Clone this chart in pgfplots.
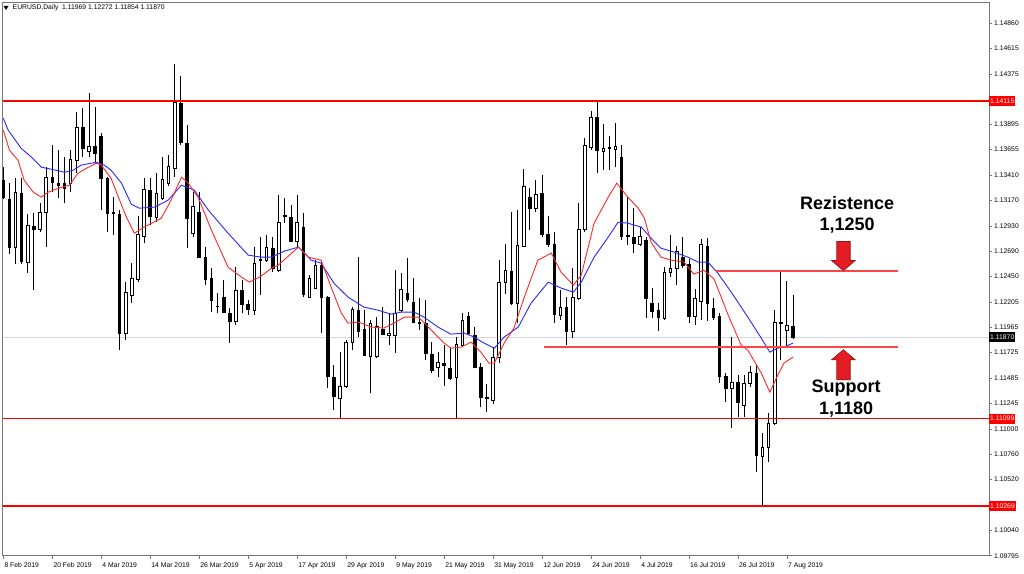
\documentclass[border=0pt]{standalone}
\usepackage{fontspec}
\setmainfont{Liberation Sans}
\usepackage{pgfplots}
\usepackage{pgfplotstable}
\pgfplotsset{compat=1.18}
\definecolor{mablue}{RGB}{40,40,255}
\definecolor{mared}{RGB}{255,40,40}
\definecolor{lvred}{RGB}{255,0,0}
\definecolor{pline}{RGB}{250,70,70}
\definecolor{arrfill}{RGB}{228,28,36}
\definecolor{arrdraw}{RGB}{160,20,20}
\definecolor{frame}{RGB}{120,120,120}

\pgfplotstableread{
i O H L C
0 1.13364 1.13488 1.13184 1.13203
1 1.13184 1.13336 1.12661 1.12728
2 1.12728 1.13383 1.12566 1.13250
3 1.13241 1.13383 1.12566 1.12595
4 1.12585 1.13041 1.12481 1.12937
5 1.12927 1.13051 1.12319 1.12899
6 1.12899 1.13146 1.12870 1.13060
7 1.13060 1.13488 1.12728 1.13393
8 1.13393 1.13697 1.13250 1.13345
9 1.13336 1.13649 1.13193 1.13317
10 1.13336 1.13583 1.13146 1.13290
11 1.13336 1.13649 1.13250 1.13564
12 1.13554 1.14010 1.13431 1.13868
13 1.13868 1.14048 1.13583 1.13668
14 1.13640 1.14191 1.13583 1.13687
15 1.13687 1.14058 1.13535 1.13621
16 1.13782 1.13811 1.13079 1.13383
17 1.13383 1.13393 1.12870 1.13051
18 1.13055 1.13203 1.12842 1.13044
19 1.13041 1.13079 1.11749 1.11911
20 1.11911 1.12395 1.11844 1.12300
21 1.12272 1.12576 1.12196 1.12433
22 1.12424 1.13022 1.12395 1.12851
23 1.12832 1.13383 1.12766 1.13279
24 1.13269 1.13383 1.12937 1.13022
25 1.13013 1.13431 1.12965 1.13241
26 1.13193 1.13583 1.13174 1.13374
27 1.13336 1.13602 1.13307 1.13497
28 1.13478 1.14466 1.13393 1.14105
29 1.14096 1.14352 1.13697 1.13725
30 1.13716 1.13887 1.12718 1.13003
31 1.12861 1.13250 1.12823 1.13117
32 1.13060 1.13250 1.12623 1.12633
33 1.12633 1.12728 1.12367 1.12424
34 1.12433 1.12528 1.12110 1.12224
35 1.12167 1.12291 1.12101 1.12160
36 1.12253 1.12414 1.12101 1.12110
37 1.12101 1.12148 1.11816 1.12025
38 1.12025 1.12538 1.11987 1.12319
39 1.12319 1.12414 1.12101 1.12186
40 1.12186 1.12224 1.12082 1.12139
41 1.12129 1.12728 1.12082 1.12576
42 1.12614 1.12823 1.12272 1.12604
43 1.12604 1.12842 1.12585 1.12728
44 1.12718 1.12823 1.12490 1.12528
45 1.12509 1.13222 1.12490 1.12965
46 1.13032 1.13193 1.12956 1.13022
47 1.13013 1.13127 1.12775 1.12785
48 1.12785 1.13222 1.12728 1.12965
49 1.12918 1.13051 1.12253 1.12281
50 1.12253 1.12462 1.12243 1.12433
51 1.12339 1.12604 1.12329 1.12557
52 1.12557 1.12604 1.11911 1.12253
53 1.12253 1.12262 1.11388 1.11502
54 1.11493 1.11607 1.11179 1.11312
55 1.11293 1.11730 1.11090 1.11407
56 1.11407 1.11844 1.11388 1.11825
57 1.11825 1.12158 1.11749 1.12139
58 1.12129 1.12633 1.11873 1.11930
59 1.11949 1.12129 1.11692 1.11702
60 1.11692 1.12034 1.11341 1.12006
61 1.11692 1.12063 1.11673 1.11978
62 1.11949 1.12158 1.11892 1.11901
63 1.11885 1.12101 1.11797 1.11908
64 1.11892 1.12509 1.11721 1.12101
65 1.12129 1.12481 1.12110 1.12329
66 1.12291 1.12623 1.12205 1.12234
67 1.12205 1.12433 1.12006 1.12016
68 1.12016 1.12243 1.11939 1.12006
69 1.12006 1.12224 1.11654 1.11721
70 1.11711 1.11825 1.11531 1.11559
71 1.11588 1.11730 1.11493 1.11635
72 1.11626 1.11797 1.11407 1.11607
73 1.11578 1.11778 1.11464 1.11483
74 1.11493 1.11873 1.11095 1.11806
75 1.11797 1.12101 1.11778 1.12034
76 1.12072 1.12110 1.11892 1.11911
77 1.11892 1.11968 1.11578 1.11588
78 1.11588 1.11626 1.11208 1.11303
79 1.11303 1.11426 1.11160 1.11286
80 1.11274 1.11778 1.11236 1.11683
81 1.11683 1.12604 1.11626 1.12395
82 1.12395 1.12756 1.12281 1.12509
83 1.12500 1.13060 1.12177 1.12196
84 1.12196 1.13079 1.12006 1.12747
85 1.12737 1.13469 1.12728 1.13307
86 1.13203 1.13290 1.12889 1.13098
87 1.13098 1.13364 1.13060 1.13231
88 1.13241 1.13412 1.12823 1.12851
89 1.12851 1.13022 1.12728 1.12756
90 1.12756 1.12870 1.12006 1.12091
91 1.12082 1.12319 1.12034 1.12158
92 1.12158 1.12253 1.11797 1.11930
93 1.11930 1.12528 1.11863 1.12253
94 1.12243 1.13146 1.12224 1.12899
95 1.12899 1.13763 1.12870 1.13697
96 1.13678 1.14020 1.13649 1.13963
97 1.13963 1.14115 1.13431 1.13649
98 1.13633 1.13896 1.13459 1.13665
99 1.13675 1.13782 1.13459 1.13665
100 1.13659 1.13905 1.13488 1.13680
101 1.13583 1.13697 1.12794 1.12832
102 1.12842 1.13203 1.12747 1.12826
103 1.12823 1.13098 1.12671 1.12766
104 1.12756 1.12918 1.12737 1.12832
105 1.12794 1.12823 1.12053 1.12243
106 1.12196 1.12338 1.12053 1.12120
107 1.12129 1.12196 1.11930 1.12063
108 1.12053 1.12538 1.12034 1.12490
109 1.12485 1.12842 1.12443 1.12525
110 1.12528 1.12737 1.12367 1.12690
111 1.12633 1.12823 1.12528 1.12557
112 1.12566 1.12614 1.12006 1.12072
113 1.12072 1.12329 1.11987 1.12243
114 1.12215 1.12804 1.12034 1.12756
115 1.12737 1.12813 1.12025 1.12196
116 1.12148 1.12243 1.12034 1.12063
117 1.12072 1.12101 1.11436 1.11502
118 1.11502 1.11531 1.11255 1.11388
119 1.11388 1.11873 1.11008 1.11445
120 1.11445 1.11512 1.11113 1.11255
121 1.11227 1.11512 1.11113 1.11436
122 1.11436 1.11597 1.11398 1.11540
123 1.11531 1.11607 1.10590 1.10752
124 1.10742 1.10961 1.10269 1.10828
125 1.10828 1.11151 1.10685 1.11056
126 1.11056 1.12129 1.11037 1.12016
127 1.12008 1.12490 1.11654 1.12003
128 1.11939 1.12405 1.11768 1.11987
129 1.11969 1.12272 1.11854 1.11870
}\ohlc

\begin{document}
\begin{tikzpicture}[x=1pt,y=1pt]
\path[fill=white] (0,0) rectangle (1024,574);
\begin{axis}[
  at={(2pt,18pt)}, anchor=south west,
  width=987pt, height=554pt, scale only axis,
  xmin=-0.13, xmax=161, ymin=1.09795, ymax=1.15058,
  clip=false,
  axis line style={draw=frame, line width=0.8pt},
  tick align=outside, major tick length=3pt,
  tick style={draw=frame, line width=0.6pt},
  xtick pos=bottom, ytick pos=right, yticklabel pos=right,
  scaled y ticks=false, scaled x ticks=false,
  xtick={0,8,16,24,32,40,48,56,64,72,80,88,96,104,112,120,128},
  xticklabels={8 Feb 2019,20 Feb 2019,4 Mar 2019,14 Mar 2019,26 Mar 2019,5 Apr 2019,17 Apr 2019,29 Apr 2019,9 May 2019,21 May 2019,31 May 2019,12 Jun 2019,24 Jun 2019,4 Jul 2019,16 Jul 2019,26 Jul 2019,7 Aug 2019},
  ytick={1.14860,1.14615,1.14375,1.13895,1.13655,1.13410,1.13170,1.12930,1.12690,1.12450,1.12205,1.11965,1.11725,1.11485,1.11245,1.11000,1.10760,1.10520,1.10040,1.09795},
  yticklabels={1.14860,1.14615,1.14375,1.13895,1.13655,1.13410,1.13170,1.12930,1.12690,1.12450,1.12205,1.11965,1.11725,1.11485,1.11245,1.11000,1.10760,1.10520,1.10040,1.09795},
  every tick label/.append style={font=\fontsize{6.8}{8}\selectfont, text=black},
  xticklabel style={anchor=north west, inner sep=1pt, yshift=-3pt},
  yticklabel style={anchor=west, inner sep=1pt, xshift=1pt},
]
% bid line
\addplot[draw={rgb,255:red,215;green,215;blue,215}, line width=1.6pt, forget plot] coordinates {(-0.13,1.11870) (161,1.11870)};
% wicks
\addplot[draw=none, mark=none, forget plot,
  error bars/.cd, y dir=plus, y explicit, error mark=none,
  error bar style={draw=black, line width=1pt, solid}]
  table[x=i, y=L, y error expr={\thisrow{H}-\thisrow{L}}] {\ohlc};
% bodies (outer, black)
\addplot[draw=none, mark=none, forget plot,
  error bars/.cd, y dir=plus, y explicit, error mark=none,
  error bar style={draw=black, line width=3.6pt, solid}]
  table[x=i, y expr={min(\thisrow{O},\thisrow{C})-0.0000475}, y error expr={abs(\thisrow{C}-\thisrow{O})+0.000095}] {\ohlc};
% bodies (inner, white for rising days)
\addplot[draw=none, mark=none, forget plot,
  error bars/.cd, y dir=plus, y explicit, error mark=none,
  error bar style={draw=white, line width=1.6pt, solid}]
  table[x=i, y expr={\thisrow{O}+0.0000475}, y error expr={max(\thisrow{C}-\thisrow{O}-0.000095,0)}] {\ohlc};
% moving averages
\addplot[mablue, line width=0.9pt, mark=none] coordinates {
(0,1.13953) (0.8,1.13839) (2.9,1.13668) (4.6,1.13583) (6.2,1.13488) (7.8,1.13469) (10,1.13440) (11.4,1.13459) (12.7,1.13507) (15.2,1.13535) (16.5,1.13507) (17.6,1.13459) (19.3,1.13336) (20.9,1.13136) (22.2,1.13098) (24.7,1.13108) (26.9,1.13174) (29.1,1.13317) (31.2,1.13269) (33.5,1.13079) (36.7,1.12861) (40,1.12652) (42.1,1.12633) (43.8,1.12633) (45.9,1.12690) (48.2,1.12728) (50.3,1.12604) (51.9,1.12576) (54,1.12386) (56.3,1.12253) (58.9,1.12158) (61.2,1.12129) (63.3,1.12091) (65,1.12110) (67.1,1.12110) (68.7,1.12063) (71,1.11968) (73.1,1.11901) (75.3,1.11911) (76.9,1.11873) (78.5,1.11816) (80.2,1.11768) (81.8,1.11873) (84.1,1.11968) (86.2,1.12196) (89,1.12395) (91.1,1.12339) (93.1,1.12300) (94.4,1.12395) (96.5,1.12633) (98.8,1.12823) (100.4,1.12965) (102,1.12956) (104.2,1.12918) (105.8,1.12813) (107.4,1.12718) (109.6,1.12680) (111.8,1.12633) (113.5,1.12585) (115.1,1.12585) (116.7,1.12481) (118.9,1.12300) (121.6,1.12063) (123.8,1.11863) (125.2,1.11730) (126.5,1.11768) (127.5,1.11778) (129,1.11816)};
\addplot[mared, line width=0.9pt, mark=none] coordinates {
(0,1.13839) (1,1.13649) (2.4,1.13554) (3.4,1.13364) (4.9,1.13250) (6.2,1.13203) (7.3,1.13250) (9.1,1.13290) (10.8,1.13317) (12.2,1.13431) (13.9,1.13488) (15.2,1.13526) (16,1.13507) (17.6,1.13383) (18.8,1.13203) (20.1,1.13013) (21.4,1.12861) (23,1.12918) (25.8,1.13003) (27.4,1.13174) (29.1,1.13393) (30.2,1.13336) (31.8,1.13203) (34,1.12889) (36.7,1.12538) (38.9,1.12443) (40.2,1.12395) (42.1,1.12452) (43.8,1.12528) (44.9,1.12557) (48.2,1.12728) (49.8,1.12633) (51.9,1.12604) (53.6,1.12339) (55.2,1.12101) (56.3,1.12006) (58,1.12016) (60.1,1.11968) (62.2,1.11959) (63.8,1.12006) (65.5,1.12063) (67.8,1.12063) (69.9,1.11939) (72,1.11816) (73.1,1.11768) (74.8,1.11778) (76.4,1.11825) (78,1.11730) (79.3,1.11626) (80.2,1.11626) (81.8,1.11816) (83.4,1.11959) (85.1,1.12253) (87.3,1.12604) (89.5,1.12671) (91.1,1.12490) (93.1,1.12367) (94.4,1.12462) (96.5,1.12956) (98.8,1.13203) (100.2,1.13336) (102,1.13203) (103.7,1.13098) (104.7,1.13003) (105.8,1.12775) (107.4,1.12633) (109.1,1.12604) (111.2,1.12585) (112.8,1.12471) (114.4,1.12509) (116.1,1.12424) (118.4,1.12082) (120.5,1.11797) (121.6,1.11749) (123.8,1.11531) (125.2,1.11350) (126.5,1.11512) (127.5,1.11626) (129,1.11683)};
% horizontal levels
\addplot[lvred, line width=1.5pt] coordinates {(-0.13,1.14115) (161,1.14115)};
\addplot[lvred, line width=1.5pt] coordinates {(-0.13,1.11099) (161,1.11099)};
\addplot[lvred, line width=1.5pt] coordinates {(-0.13,1.10269) (161,1.10269)};
\addplot[pline, line width=1.5pt] coordinates {(116.4,1.12500) (146.1,1.12500)};
\addplot[pline, line width=1.5pt] coordinates {(88.3,1.11778) (146.1,1.11778)};
% price boxes on the scale
\node[fill=red, text=white, anchor=west, inner sep=1pt, minimum height=10pt, font=\fontsize{6.8}{8}\selectfont] at (axis cs:161,1.14115) {1.14115};
\node[fill=red, text=white, anchor=west, inner sep=1pt, minimum height=10pt, font=\fontsize{6.8}{8}\selectfont] at (axis cs:161,1.11099) {1.11099};
\node[fill=red, text=white, anchor=west, inner sep=1pt, minimum height=10pt, font=\fontsize{6.8}{8}\selectfont] at (axis cs:161,1.10269) {1.10269};
\node[fill=black, text=white, anchor=west, inner sep=1pt, minimum height=10pt, font=\fontsize{6.8}{8}\selectfont] at (axis cs:161,1.11870) {1.11870};
\end{axis}
% header
\fill[black] (3,568) -- (8,568) -- (5.5,564) -- cycle;
\node[anchor=west, inner sep=0pt, font=\fontsize{6.8}{8}\selectfont] at (12,566) {EURUSD,Daily\ \ 1.11969 1.12272 1.11854 1.11870};
% annotations
\node[font=\fontsize{18}{20}\selectfont\bfseries] at (847,371) {Rezistence};
\node[font=\fontsize{18}{20}\selectfont\bfseries] at (847,348) {1,1250};
\node[font=\fontsize{18}{20}\selectfont\bfseries] at (846,186) {Support};
\node[font=\fontsize{18}{20}\selectfont\bfseries] at (846,164) {1,1180};
\filldraw[fill=arrfill, draw=arrdraw, line width=0.8pt] (836.7,332.3) -- (850,332.3) -- (850,313.3) -- (855,313.3) -- (843.3,303.3) -- (831.5,313.3) -- (836.7,313.3) -- cycle;
\filldraw[fill=arrfill, draw=arrdraw, line width=0.8pt] (843.3,224) -- (855,214) -- (850,214) -- (850,194) -- (836.7,194) -- (836.7,214) -- (831.5,214) -- cycle;
\end{tikzpicture}
\end{document}
